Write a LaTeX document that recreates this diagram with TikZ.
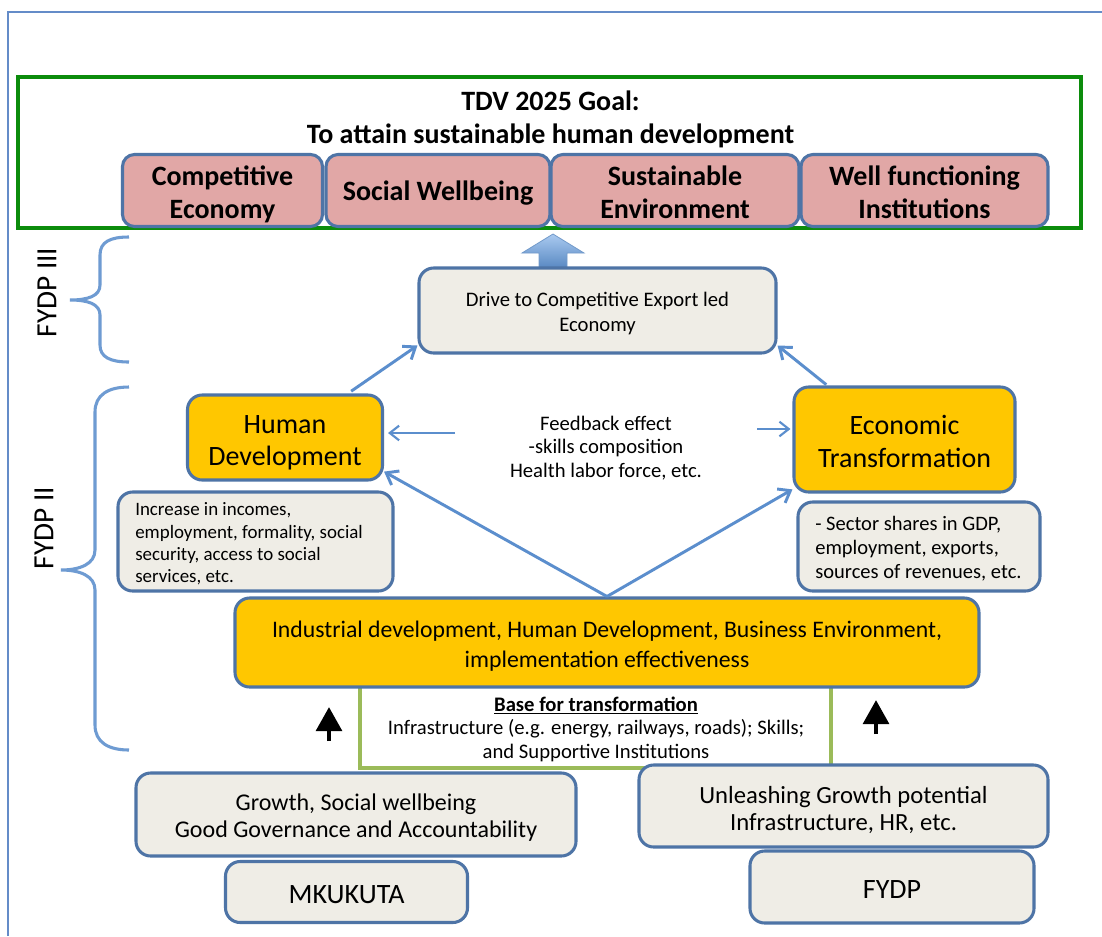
\documentclass[tikz,border=0pt]{standalone}
\usepackage{fontspec}
\setmainfont{Carlito}
\usetikzlibrary{arrows.meta,calc}
\definecolor{frameblue}{RGB}{100,140,200}
\definecolor{goalgreen}{RGB}{12,140,12}
\definecolor{pinkfill}{RGB}{225,167,166}
\definecolor{boxblue}{RGB}{78,116,166}
\definecolor{grayfill}{RGB}{239,237,230}
\definecolor{gold}{RGB}{255,199,0}
\definecolor{linkblue}{RGB}{91,142,205}
\definecolor{basegreen}{RGB}{155,187,89}
\definecolor{bracecol}{RGB}{110,155,210}
\definecolor{arrowtop}{RGB}{170,202,240}
\definecolor{arrowbot}{RGB}{79,129,189}
\newcommand\tophgt[1]{\rule{0pt}{#1}}
\newcommand\botdep[1]{\rule[-#1]{0pt}{0pt}}
\begin{document}
\begin{tikzpicture}[x=0.75pt,y=-0.75pt,
  sz/.style 2 args={minimum width={#1*0.75pt}, minimum height={#2*0.75pt}},
  basebox/.style={draw=boxblue, line width=2.3pt, inner sep=0pt, align=center},
  pinkbox/.style={basebox, fill=pinkfill, rounded corners=9pt, font=\fontsize{21}{24.4}\selectfont\bfseries},
  graybox/.style={basebox, fill=grayfill, rounded corners=11pt},
  goldbox/.style={basebox, fill=gold, rounded corners=11pt},
  goalframe/.style={draw=goalgreen, line width=3pt, inner sep=0pt},
  greenbase/.style={draw=basegreen, line width=2.6pt, inner sep=0pt},
  link/.style={draw=linkblue, line width=2.2pt, -{Straight Barb[length=8pt,width=12pt,line width=2.2pt]}},
  fbarrow/.style={draw=linkblue, line width=1.6pt, -{Straight Barb[length=7pt,width=11pt,line width=1.6pt]}},
  blackarrow/.style={draw=black, line width=3.6pt, -{Triangle[length=18pt,width=19pt]}},
  brace/.style={draw=bracecol, line width=2.3pt},
  plain/.style={inner sep=0pt, align=center},
  leftplain/.style={inner sep=0pt, align=left, anchor=west}
]
\useasboundingbox (0,0) rectangle (1102,936);
\fill[white] (0,0) rectangle (1102,936);

% outer frame
\draw[frameblue, line width=1.5pt] (8,936) -- (8,12) -- (1102,12);

% goal frame
\node[goalframe, sz={1063}{151}] (goal) at (549.5,152.5) {};
\node[plain, font=\fontsize{21}{24.75}\selectfont\bfseries] (title) at (550.5,119)
  {TDV 2025 Goal:\\To attain sustainable human development};
\node[pinkbox, sz={200}{72}] (comp) at (222.5,190.5) {\tophgt{22.5pt}Competitive\\Economy\botdep{5pt}};
\node[pinkbox, sz={224}{72}] (social) at (438,190.5) {\tophgt{20.6pt}Social Wellbeing\botdep{5pt}};
\node[pinkbox, sz={248}{72}] (env) at (675,190.5) {\tophgt{22.5pt}Sustainable\\Environment\botdep{5pt}};
\node[pinkbox, sz={247}{72}] (inst) at (924.5,190.5) {\tophgt{22.5pt}Well functioning\\Institutions\botdep{5pt}};

% block arrow
\shade[top color=arrowtop, bottom color=arrowbot, draw=arrowbot!80, line width=0.6pt]
  (553,234) -- (584,253) -- (567,253) -- (567,272) -- (539,272) -- (539,253) -- (522,253) -- cycle;

% FYDP III
\node[graybox, sz={357}{85}, font=\fontsize{15.5}{18.75}\selectfont] (drive) at (597.5,310.5)
  {\tophgt{17.15pt}Drive to Competitive Export led\\Economy\botdep{4pt}};

% braces and labels
\draw[brace] (129,237) .. controls (110,237) and (100,242) .. (100,255) -- (100,285)
  .. controls (100,296) and (88,300) .. (70,300)
  .. controls (88,300) and (100,304) .. (100,315) -- (100,345)
  .. controls (100,357) and (110,362) .. (129,362);
\draw[brace] (129,387) .. controls (108,387) and (95,395) .. (95,412) -- (95,550)
  .. controls (95,564) and (80,570) .. (61,570)
  .. controls (80,570) and (95,576) .. (95,590) -- (95,725)
  .. controls (95,742) and (108,750) .. (129,750);
\node[plain, rotate=90, font=\fontsize{22}{26}\selectfont] (lab3) at (47,292.5) {FYDP III};
\node[plain, rotate=90, font=\fontsize{22}{26}\selectfont] (lab2) at (44,528) {FYDP II};

% FYDP II main boxes
\node[goldbox, sz={195}{85}, font=\fontsize{21}{24.5}\selectfont] (hd) at (285,437.5)
  {\tophgt{23.05pt}Human\\Development\botdep{5pt}};
\node[goldbox, sz={221}{105}, font=\fontsize{21}{24.5}\selectfont] (econ) at (904.5,439.5)
  {\tophgt{22.6pt}Economic\\Transformation\botdep{5pt}};
\node[plain, font=\fontsize{15.5}{17.8}\selectfont] (fb) at (606,448)
  {Feedback effect\\-skills composition\\Health labor force, etc.};

\node[graybox, sz={275}{99}] (inc) at (255.5,541.5) {};
\node[leftplain, font=\fontsize{14.2}{16.7}\selectfont] (inctext) at (135,544)
  {Increase in incomes,\\employment, formality, social\\security, access to social\\services, etc.};
\node[graybox, sz={242}{89}] (sec) at (919,546.5) {};
\node[leftplain, font=\fontsize{15.4}{17.9}\selectfont] (sectext) at (815,549)
  {- Sector shares in GDP,\\employment, exports,\\sources of revenues, etc.};

% base for transformation
\node[greenbase, sz={471}{92}] (base) at (595.5,722) {};
\node[plain, font=\fontsize{15.5}{17.6}\selectfont] (basetext) at (596,729)
  {\underline{\textbf{Base for transformation}}\\Infrastructure (e.g. energy, railways, roads); Skills;\\and Supportive Institutions};

\node[goldbox, sz={744}{89}, font=\fontsize{17.8}{22.5}\selectfont] (ind) at (607,642.5)
  {\tophgt{19.95pt}Industrial development, Human Development, Business Environment,\\implementation effectiveness\botdep{4.5pt}};

% connectors
\draw[link, shorten <=3pt] (hd.35) -- (drive.191);
\draw[link, shorten <=1pt] (econ.145) -- (drive.349);
\draw[link] (ind.north) -- (hd.-19);
\draw[link] (ind.north) -- (econ.204);
\coordinate (fbl) at (455,433);
\coordinate (fbr) at (757,429);
\draw[fbarrow, shorten >=3pt] (fbl) -- (fbl -| hd.east);
\draw[fbarrow, shorten >=1.5pt] (fbr) -- (fbr -| econ.west);

% black arrows
\coordinate (alb) at (329,741);
\coordinate (alt) at (329,707);
\coordinate (arb) at (876,734);
\coordinate (art) at (876,700);
\draw[blackarrow] (alb) -- (alt);
\draw[blackarrow] (arb) -- (art);

% bottom boxes
\node[graybox, sz={440}{83}, font=\fontsize{18}{20.3}\selectfont] (growth) at (356,814.5)
  {\tophgt{19.4pt}Growth, Social wellbeing\\Good Governance and Accountability\botdep{4.5pt}};
\node[graybox, sz={409}{82}, font=\fontsize{18.5}{20.3}\selectfont] (unleash) at (843.5,806)
  {\tophgt{20.4pt}Unleashing Growth potential\\Infrastructure, HR, etc.\botdep{4.5pt}};
\node[graybox, sz={242}{61}, font=\fontsize{21}{24}\selectfont] (mku) at (346.5,892)
  {\tophgt{21.8pt}MKUKUTA\botdep{5pt}};
\node[graybox, sz={284}{72}, font=\fontsize{21}{24}\selectfont] (fydp) at (892,887)
  {\tophgt{22.3pt}FYDP\botdep{5pt}};
\end{tikzpicture}
\end{document}
